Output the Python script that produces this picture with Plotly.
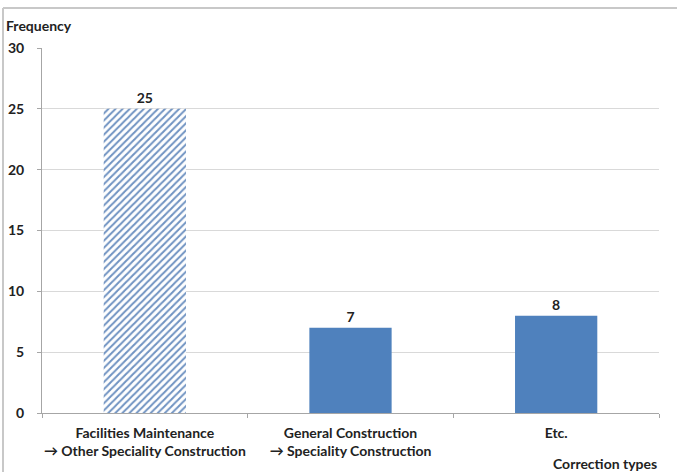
import plotly.graph_objects as go

categories = ["Facilities Maintenance<br>→ Other Speciality Construction",
              "General Construction<br>→ Speciality Construction",
              "Etc."]
values = [25, 7, 8]
y_ticks = [0, 5, 10, 15, 20, 25, 30]

FONT = "Lato"
FS = 14
bar_blue = "#4f81bd"
hatch = "#7093c2"
txtfont = dict(family=FONT, size=FS, color="#222", weight="bold")

fig = go.Figure()
fig.add_trace(go.Bar(
    x=categories[:1], y=values[:1],
    marker=dict(
        color=hatch,
        pattern=dict(shape="/", fgcolor=hatch, bgcolor="white",
                     fillmode="replace", size=5, solidity=0.4),
        line=dict(width=0),
    ),
    text=[str(v) for v in values[:1]], textposition="outside",
    textfont=txtfont, cliponaxis=False, width=0.4,
))
fig.add_trace(go.Bar(
    x=categories[1:], y=values[1:],
    marker=dict(color=bar_blue, line=dict(width=0)),
    text=[str(v) for v in values[1:]], textposition="outside",
    textfont=txtfont, cliponaxis=False, width=0.4,
))

fig.update_layout(
    width=677, height=472,
    margin=dict(l=42, r=18, t=48, b=59),
    paper_bgcolor="white", plot_bgcolor="white",
    showlegend=False, barmode="overlay",
    font=dict(family=FONT, size=FS, color="#222"),
    xaxis=dict(
        categoryorder="array", categoryarray=categories,
        tickson="boundaries", ticks="outside", ticklen=4, tickcolor="#a6a6a6",
        showline=True, linecolor="#a6a6a6", linewidth=1,
        tickfont=txtfont, tickangle=0, automargin=False,
        ticklabelstandoff=7,
        showgrid=False,
    ),
    yaxis=dict(
        range=[0, 30], tickvals=y_ticks, ticks="outside", ticklen=4,
        tickcolor="#a6a6a6", showline=True, linecolor="#a6a6a6",
        gridcolor="#d9d9d9", gridwidth=1, zeroline=False,
        tickfont=txtfont, automargin=False,
        ticklabelstandoff=10,
    ),
    annotations=[
        dict(text="Frequency", xref="paper", yref="paper", x=-0.062, y=1.063,
             xanchor="left", yanchor="middle", showarrow=False, font=txtfont),
        dict(text="Correction types", xref="paper", yref="paper", x=1.0, y=-0.137,
             xanchor="right", yanchor="middle", showarrow=False, font=txtfont),
    ],
    shapes=[
        dict(type="line", xref="paper", yref="paper", x0=-0.0632, x1=1.03,
             y0=1.1096, y1=1.1096, line=dict(color="#c8c8c8", width=2)),
        dict(type="line", xref="paper", yref="paper", x0=-0.0632, x1=-0.0632,
             y0=1.1096, y1=-0.2, line=dict(color="#c8c8c8", width=2)),
    ],
)

fig.write_html("out.html")
